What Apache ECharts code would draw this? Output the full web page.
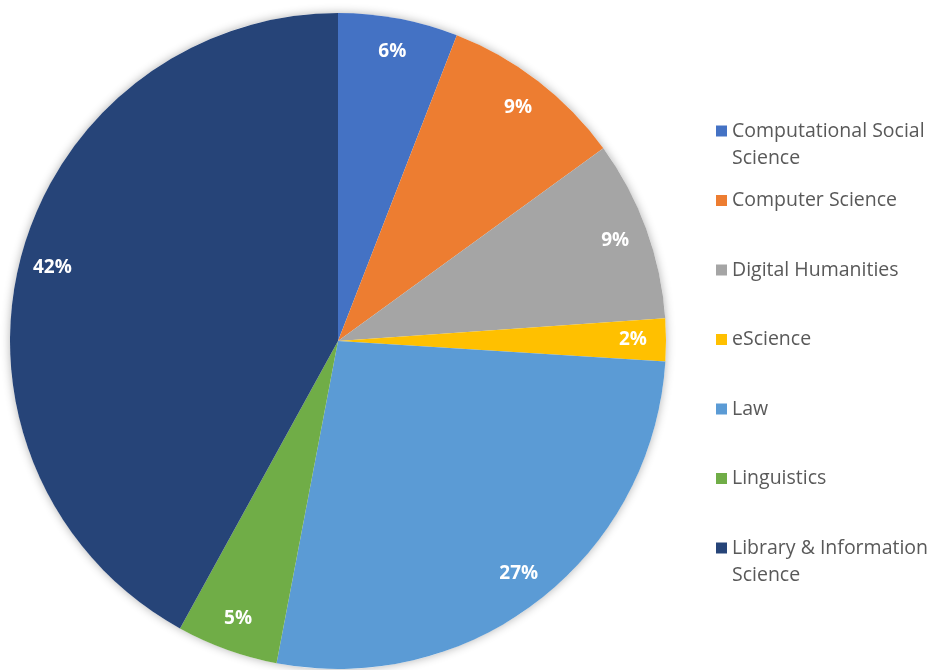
<!DOCTYPE html>
<html><head><meta charset="utf-8">
<script src="https://cdn.jsdelivr.net/npm/echarts@6/dist/echarts.min.js"></script>
<style>html,body{margin:0;padding:0;background:#fff}#c{width:932px;height:670px}</style>
</head><body><div id="c"></div>
<script>
const categories = ["Computational Social Science","Computer Science","Digital Humanities","eScience","Law","Linguistics","Library & Information Science"];
const legendLabels = ["Computational Social\nScience","Computer Science","Digital Humanities","eScience","Law","Linguistics","Library & Information\nScience"];
const shares = [5.9, 9.1, 8.9, 2.1, 27.0, 5.0, 42.0];
const colors = ["#4472C4","#ED7D31","#A5A5A5","#FFC000","#5B9BD5","#70AD47","#264478"];

const data = categories.map((n,i)=>({name:n,value:shares[i],itemStyle:{color:colors[i]}}));
const chart = echarts.init(document.getElementById('c'), null, {renderer:'canvas'});
const center = [338, 341];
const R = 328;
const LH = 27;
chart.setOption({
  animation:false,
  backgroundColor:'#fff',
  legend:{
    orient:'vertical', left:716, top:131-1.5*LH, padding:0,
    itemWidth:11, itemHeight:11, itemGap:69.5-3*LH, icon:'rect',
    data:categories,
    formatter:function(n){
      const t = legendLabels[categories.indexOf(n)];
      return t.indexOf('\n') >= 0 ? ' \n' + t : ' \n' + t + '\n ';
    },
    textStyle:{fontFamily:'Open Sans', fontSize:19.5, color:'#595959', lineHeight:LH}
  },
  series:[
    {type:'pie', silent:true, center:center, radius:[0,R], startAngle:90, clockwise:true,
     data:[{name:'_bg', value:1, itemStyle:{color:'#fff', shadowBlur:10, shadowColor:'rgba(0,0,0,0.3)'}}],
     label:{show:false}, labelLine:{show:false}, emphasis:{disabled:true}},
    {type:'pie', center:center, radius:[0,R], startAngle:90, clockwise:true, data:data,
     label:{show:false}, labelLine:{show:false}, itemStyle:{borderWidth:0}},
    {type:'pie', silent:true, center:center, radius:[R*0.78,R], startAngle:90, clockwise:true, percentPrecision:0,
     data:categories.map((n,i)=>({name:n,value:shares[i],itemStyle:{color:'rgba(0,0,0,0)'}})),
     label:{show:true, position:'inside', formatter:'{d}%', color:'#fff', fontFamily:'Open Sans', fontWeight:'bold', fontSize:19},
     labelLine:{show:false}, emphasis:{disabled:true}}
  ]
});
</script></body></html>
